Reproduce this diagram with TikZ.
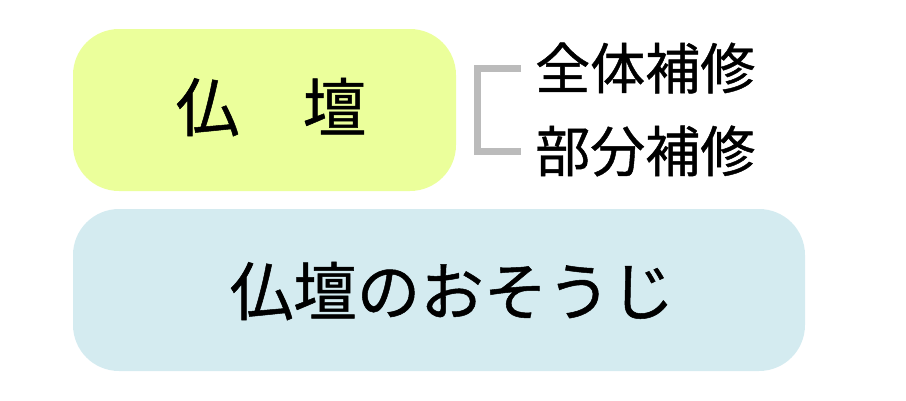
\documentclass[tikz,border=0pt]{standalone}
\usepackage{fontspec}
\setmainfont{Noto Sans CJK JP}[FakeBold=0.8]
\definecolor{boxyellow}{HTML}{EBFF9B}
\definecolor{boxblue}{HTML}{D4EBF0}
\definecolor{brgray}{HTML}{BBBBBB}
\begin{document}
\begin{tikzpicture}[x=1pt,y=-1pt,
  bigtext/.style={font=\fontsize{63.5}{63.5}\selectfont, inner sep=0pt, anchor=center},
  smalltext/.style={font=\fontsize{55}{55}\selectfont, inner sep=0pt, anchor=west},
  bracketline/.style={draw=brgray, line width=7pt}]
\useasboundingbox (0,0) rectangle (906,400);
\fill[boxyellow, rounded corners=46pt] (73,29) rectangle (456,191);
\fill[boxblue, rounded corners=46pt] (73,209) rectangle (805,371);
\node[bigtext] (butsudan) at (271,107) {仏　壇};
\node[bigtext] (souji) at (452,291) {仏壇のおそうじ};
\node[smalltext] (zentai) at (535,68) {全体補修};
\node[smalltext] (bubun) at (535,151) {部分補修};
\coordinate (bt) at (521,68);
\coordinate (bb) at (521,151);
\draw[bracketline] (bt) -- (477,68) -- (477,151) -- (bb);
\end{tikzpicture}
\end{document}
